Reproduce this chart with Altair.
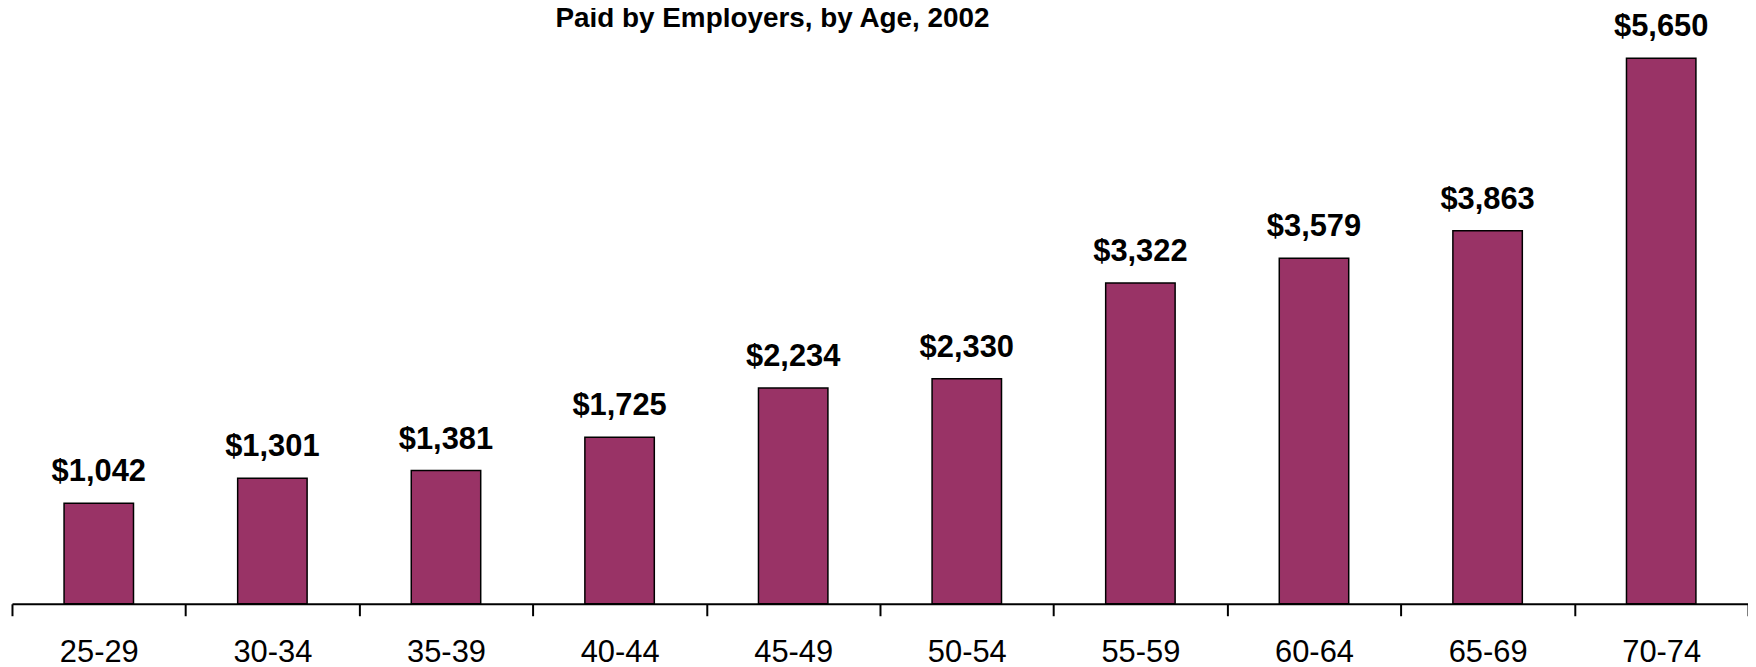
import altair as alt
import pandas as pd

ages = ["25-29", "30-34", "35-39", "40-44", "45-49", "50-54", "55-59", "60-64", "65-69", "70-74"]
costs = [1042, 1301, 1381, 1725, 2234, 2330, 3322, 3579, 3863, 5650]
title_text = ["Paid by Employers, by Age, 2002"]

df = pd.DataFrame({"age": ages, "cost": costs})
df["label"] = ["$" + f"{v:,}" for v in costs]

FONT = "Liberation Sans"

x = alt.X(
    "age:N",
    sort=ages,
    scale=alt.Scale(paddingInner=0, paddingOuter=0),
    axis=alt.Axis(
        title=None,
        labelAngle=0,
        labelFont=FONT,
        labelFontSize=31,
        labelColor="black",
        labelBaseline="alphabetic",
        labelPadding=46,
        domainColor="black",
        domainWidth=2,
        tickColor="black",
        tickWidth=2,
        tickSize=12,
        tickBand="extent",
        grid=False,
    ),
)
y = alt.Y("cost:Q", scale=alt.Scale(domain=[0, 6000], nice=False), axis=None)

base = alt.Chart(df)

bars = base.mark_bar(
    color="#993366", stroke="black", strokeWidth=1.5,
    width=alt.RelativeBandSize(0.4),
).encode(x=x, y=y)

labels = base.mark_text(
    font=FONT, fontSize=31, fontWeight="bold", color="black",
    baseline="alphabetic", align="center", dy=-22,
).encode(x=x, y=y, text="label:N")

title = alt.Chart(pd.DataFrame({"t": title_text})).mark_text(
    font=FONT, fontSize=28, fontWeight="bold", color="black",
    baseline="alphabetic", align="center",
).encode(x=alt.value(764), y=alt.value(3), text="t:N")

chart = alt.layer(bars, labels, title).properties(
    width=1744,
    height=582,
    padding={"top": 15, "left": 4, "right": 0, "bottom": 66},
    autosize=alt.AutoSizeParams(type="none"),
    background="white",
).configure_view(stroke=None)

chart.save("out.html", embed_options={"renderer": "svg", "actions": False})
